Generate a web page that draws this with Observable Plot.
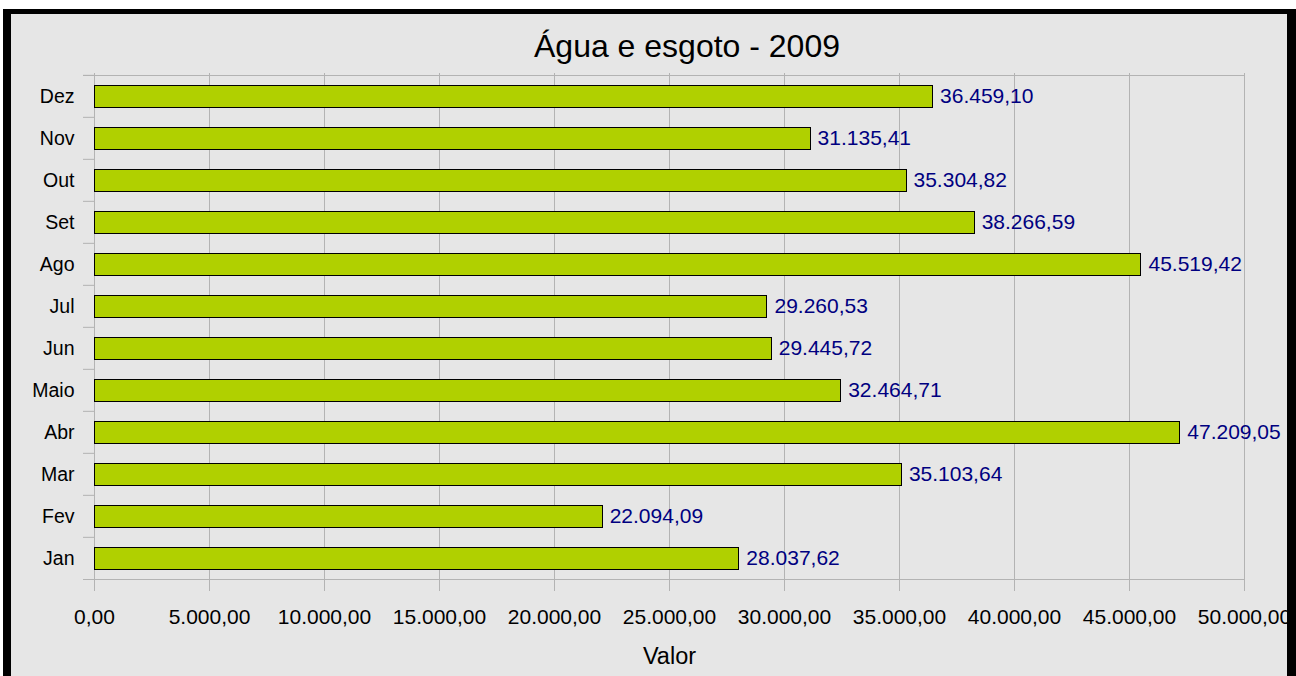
<!DOCTYPE html>
<html>
<head>
<meta charset="utf-8">
<script src="https://cdn.jsdelivr.net/npm/d3@7"></script>
<script src="https://cdn.jsdelivr.net/npm/@observablehq/plot@0.6"></script>
<style>
  html, body { margin: 0; padding: 0; background: #ffffff; }
  #page { position: relative; width: 1296px; height: 676px; overflow: hidden; }
  #bg { position: absolute; left: 11px; top: 14px; width: 1276px; height: 662px; background: #e6e6e6; }
  #chart { position: absolute; left: 0; top: 0; }
  #title { position: absolute; left: 437px; width: 500px; top: 28px; text-align: center;
           font-family: "Liberation Sans", Arial, sans-serif; font-size: 32px; color: #000; line-height: 36px; }
  #border { position: absolute; left: 3px; top: 9px; width: 1276px; height: 680px;
            border-left: 8px solid #000; border-top: 5px solid #000; border-right: 9px solid #000; pointer-events: none; }
</style>
</head>
<body>
<div id="page">
  <div id="bg"></div>
  <div id="chart"></div>
  <div id="title">Água e esgoto - 2009</div>
  <div id="border"></div>
</div>
<script>
const months = ["Jan", "Fev", "Mar", "Abr", "Maio", "Jun", "Jul", "Ago", "Set", "Out", "Nov", "Dez"];
const values = [28037.62, 22094.09, 35103.64, 47209.05, 32464.71, 29445.72, 29260.53, 45519.42, 38266.59, 35304.82, 31135.41, 36459.10];
const xTicks = [0, 5000, 10000, 15000, 20000, 25000, 30000, 35000, 40000, 45000, 50000];
const xLabel = "Valor";

const data = months.map((m, i) => ({month: m, value: values[i]}));

function fmt(v) {
  const fixed = v.toFixed(2);
  let [int, dec] = fixed.split(".");
  int = int.replace(/\B(?=(\d{3})+(?!\d))/g, ".");
  return int + "," + dec;
}

const grid = "#b3b3b3";
const half = (581 - 73) / 12 / 2;

const chart = Plot.plot({
  width: 1296,
  height: 676,
  marginLeft: 94,
  marginRight: 52,
  marginTop: 73,
  marginBottom: 95,
  style: {background: "transparent", fontFamily: "'Liberation Sans', Arial, sans-serif", fontSize: "21px", color: "#000", overflow: "visible"},
  x: {domain: [0, 50000]},
  y: {domain: months.slice().reverse(), padding: 0},
  marks: [
    Plot.ruleX(xTicks, {stroke: grid, strokeOpacity: 1, insetBottom: -10, shapeRendering: "crispEdges"}),
    Plot.ruleY(["Dez"], {dy: -half, stroke: grid, strokeOpacity: 1, insetLeft: -11, shapeRendering: "crispEdges"}),
    Plot.ruleY(["Jan"], {dy: half, stroke: grid, strokeOpacity: 1, insetLeft: -11, shapeRendering: "crispEdges"}),
    Plot.axisY({tickSize: 11, dy: -half, text: null, stroke: grid, strokeOpacity: 1, label: null}),
    Plot.barX(data, {x: "value", y: "month", fill: "#b0d000", stroke: "#000", strokeWidth: 1, insetTop: 10, insetBottom: 10, shapeRendering: "crispEdges"}),
    Plot.text(data, {x: "value", y: "month", text: d => fmt(d.value), textAnchor: "start", dx: 7, fill: "#000080", fontSize: 21}),
    Plot.axisY({tickSize: 0, tickPadding: 20, fontSize: 19.5, label: null}),
    Plot.axisX({ticks: xTicks, tickSize: 0, tickPadding: 28, tickFormat: fmt, fontSize: 21, label: null}),
    Plot.text([xLabel], {frameAnchor: "bottom", dy: 82, fontSize: 23.5, fill: "#000"})
  ]
});

document.getElementById("chart").appendChild(chart);
</script>
</body>
</html>
